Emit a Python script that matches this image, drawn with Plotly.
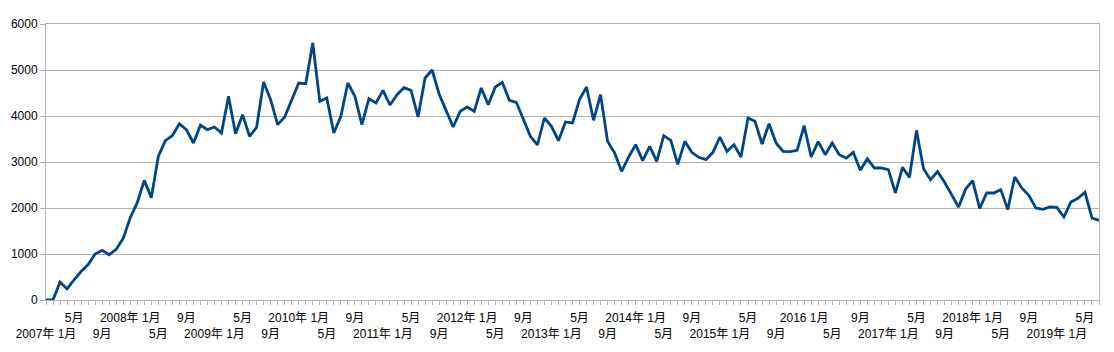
import plotly.graph_objects as go

start_year = 2007
n_months = 151  # 2007-01 .. 2019-07

months = [f"{start_year + i // 12}-{i % 12 + 1:02d}" for i in range(n_months)]

values = [
    0, 0, 390, 240, 440, 620, 770, 1000, 1080, 985, 1100, 1340,
    1790, 2115, 2600, 2225, 3120, 3465, 3575, 3830, 3705, 3413, 3800, 3703,
    3761, 3630, 4428, 3616, 4029, 3558, 3754, 4739, 4355, 3812, 3978, 4341,
    4717, 4703, 5587, 4319, 4391, 3630, 3993, 4717, 4428, 3812, 4377, 4283,
    4558, 4239, 4464, 4616, 4558, 3978, 4826, 5000, 4478, 4116, 3761, 4100,
    4196, 4101, 4609, 4246, 4630, 4732, 4341, 4297, 3935, 3558, 3370, 3957,
    3775, 3464, 3870, 3848, 4355, 4630, 3906, 4464, 3449, 3196, 2797, 3109,
    3377, 3029, 3341, 3014, 3572, 3471, 2949, 3449, 3210, 3101, 3051, 3210,
    3543, 3232, 3377, 3109, 3957, 3884, 3391, 3833, 3413, 3232, 3225, 3254,
    3790, 3109, 3442, 3159, 3413, 3159, 3087, 3210, 2819, 3072, 2870, 2870,
    2833, 2326, 2884, 2667, 3688, 2855, 2616, 2790, 2558, 2290, 2022, 2413,
    2594, 1993, 2326, 2326, 2399, 1964, 2674, 2435, 2275, 2000, 1971, 2022,
    2014, 1804, 2130, 2210, 2341, 1783, 1732,
]

y_ticks = [0, 1000, 2000, 3000, 4000, 5000, 6000]


def month_label(i):
    y, m = start_year + i // 12, i % 12 + 1
    if m == 1:
        txt = f"{y} 1月" if y == 2016 else f"{y}年 1月"
    else:
        txt = f"{m}月"
    return txt


tick_text = []
for i in range(n_months):
    if i % 4 == 0:
        k = i // 4
        lab = month_label(i)
        tick_text.append(lab if k % 2 == 1 else "<br>" + lab)
    else:
        tick_text.append("")

grid = "#b3b3b3"

fig = go.Figure(
    go.Scatter(
        x=months,
        y=values,
        mode="lines",
        line=dict(color="#004586", width=2.8),
        cliponaxis=False,
        hoverinfo="skip",
    )
)

fig.update_layout(
    width=1114,
    height=352,
    margin=dict(l=46, r=15, t=24, b=52),
    paper_bgcolor="white",
    plot_bgcolor="white",
    showlegend=False,
    font=dict(family="Liberation Sans, Arial, Noto Sans CJK SC, sans-serif", size=12, color="#000000"),
    xaxis=dict(
        type="category",
        categoryorder="array",
        categoryarray=months,
        range=[0, n_months - 1],
        tickmode="array",
        tickvals=months,
        ticktext=tick_text,
        tickangle=0,
        ticks="outside",
        ticklen=4,
        tickcolor=grid,
        tickwidth=1,
        ticklabelstandoff=3,
        showline=True,
        linecolor=grid,
        linewidth=1,
        mirror=True,
        showgrid=False,
        zeroline=False,
        tickfont=dict(size=12),
    ),
    yaxis=dict(
        range=[0, 6000],
        tickmode="array",
        tickvals=y_ticks,
        ticktext=[str(v) for v in y_ticks],
        ticks="outside",
        ticklen=5,
        tickcolor=grid,
        showline=True,
        linecolor=grid,
        linewidth=1,
        mirror=True,
        showgrid=True,
        gridcolor=grid,
        gridwidth=1,
        zeroline=False,
        tickfont=dict(size=12),
    ),
)

fig.write_html("out.html")
